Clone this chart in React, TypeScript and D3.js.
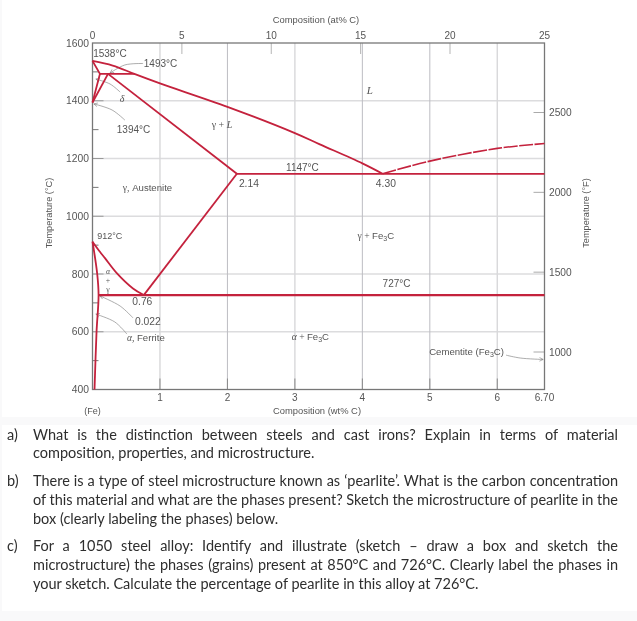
import { useLayoutEffect, useRef } from "react";
import * as d3 from "d3";

const VIEW_W = 637;
const VIEW_H = 621;
const PLOT = { top: 43, right: 544.5, bottom: 389.5, left: 92.5 };

const WT_TICKS = [1, 2, 3, 4, 5, 6];
const WT_DARK = [2, 4, 5];
const AT_TICKS = [5, 10, 15, 20];
const TEMP_MAJOR = [1400, 1200, 1000, 800, 600];
const TEMP_LABELS = [1600, 1400, 1200, 1000, 800, 600, 400];
const TEMP_MINOR = [1500, 1300, 1100, 900, 700, 500];
const F_TICKS = [2500, 2000, 1500, 1000];

type Pt = [number, number];

// phase boundaries, [wt% C, deg C]
const LIQUIDUS: Pt[] = [[0, 1538], [0.3, 1522], [0.63, 1492], [1, 1460], [2, 1379], [3, 1288], [3.37, 1249], [4, 1183], [4.3, 1147]];
const DELTA_OUTER: Pt[] = [[0, 1538], [0.11, 1493], [0, 1394]];
const PERITECTIC: Pt[] = [[0.11, 1493], [0.63, 1493]];
const GAMMA_LEFT: Pt[] = [[0, 1394], [0.23, 1493]];
const SOLIDUS: Pt[] = [[0.23, 1493], [2.14, 1147]];
const CEMENTITE_SOLVUS: Pt[] = [[2.14, 1147], [0.76, 727]];
const A3: Pt[] = [[0, 912], [0.11, 877], [0.185, 855], [0.36, 803], [0.6, 750], [0.76, 727]];
const FERRITE: Pt[] = [[0, 912], [0.07, 800], [0.09, 727], [0.06, 600], [0.03, 400]];
const EUTECTIC: Pt[] = [[2.14, 1147], [6.7, 1147]];
const EUTECTOID: Pt[] = [[0.09, 727], [6.7, 727]];
const LIQUIDUS_DASHED: Pt[] = [[4.3, 1147], [5, 1191], [6, 1235], [6.7, 1252]];

const LEADERS: Pt[][] = [
  [[0.75, 1529], [0.48, 1524], [0.26, 1496]],
  [[0.41, 1430], [0.26, 1458], [0.05, 1475]],
  [[0.48, 1333], [0.29, 1368], [0.02, 1389]],
  [[0.6, 648], [0.41, 689], [0.11, 724]],
  [[0.51, 592], [0.33, 634], [0.05, 661]],
  [[6.13, 519], [6.34, 509], [6.68, 504]],
];

const QUESTIONS = [
  { tag: "a)", lines: [
    { text: "What is the distinction between steels and cast irons? Explain in terms of material", justify: true },
    { text: "composition, properties, and microstructure.", justify: false },
  ] },
  { tag: "b)", lines: [
    { text: "There is a type of steel microstructure known as ‘pearlite’. What is the carbon concentration", justify: true },
    { text: "of this material and what are the phases present? Sketch the microstructure of pearlite in the", justify: true },
    { text: "box (clearly labeling the phases) below.", justify: false },
  ] },
  { tag: "c)", lines: [
    { text: "For a 1050 steel alloy: Identify and illustrate (sketch – draw a box and sketch the", justify: true },
    { text: "microstructure) the phases (grains) present at 850°C and 726°C. Clearly label the phases in", justify: true },
    { text: "your sketch. Calculate the percentage of pearlite in this alloy at 726°C.", justify: false },
  ] },
];
const QUESTION_BASELINES = [[439.5, 458], [486, 505, 524], [551, 570, 589]];

const x = d3.scaleLinear().domain([0, 6.7]).range([PLOT.left, PLOT.right]);
const y = d3.scaleLinear().domain([400, 1600]).range([PLOT.bottom, PLOT.top]);
// the printed at% axis is not quite even at its right end
const xAt = d3.scaleLinear().domain([0, 20, 25]).range([PLOT.left, 450, PLOT.right]);
const yF = d3.scaleLinear().domain([1000, 2500]).range([352, 112.5]);

const smooth = d3.line<Pt>().x((d) => x(d[0])).y((d) => y(d[1])).curve(d3.curveCatmullRom);
const flat = d3.line<Pt>().x((d) => x(d[0])).y((d) => y(d[1])).curve(d3.curveLinear);

const RED = "#c4213c";
const GREY = "#555555";
const SANS = "'Liberation Sans', Arial, sans-serif";
const SERIF = "'Liberation Serif', 'DejaVu Serif', serif";

function JustLine({ text, px, py, justify }: { text: string; px: number; py: number; justify: boolean }) {
  const ref = useRef<SVGTextElement>(null);
  useLayoutEffect(() => {
    if (!justify || !ref.current) return;
    const gaps = text.split(" ").length - 1;
    const w = ref.current.getComputedTextLength();
    ref.current.style.wordSpacing = `${(618 - px - w) / gaps}px`;
  }, [text, px, justify]);
  return (
    <text ref={ref} x={px} y={py} fontFamily="Lato, sans-serif" fontSize={14.5} fill="#2e2e2e">
      {text}
    </text>
  );
}

function Sub({ children }: { children: string }) {
  return (
    <>
      <tspan dy={2} fontSize={7}>{children}</tspan>
      <tspan dy={-2}>C</tspan>
    </>
  );
}

export default function App() {
  const redPaths = [DELTA_OUTER, PERITECTIC, GAMMA_LEFT, SOLIDUS, CEMENTITE_SOLVUS];
  return (
    <svg
      width={VIEW_W}
      height={VIEW_H}
      viewBox={`0 0 ${VIEW_W} ${VIEW_H}`}
      style={{ position: "absolute", left: 0, top: 0 }}
    >
      <defs>
        <marker id="open" viewBox="0 0 8 8" refX={7} refY={4} markerWidth={7} markerHeight={7} orient="auto">
          <path d="M1,1 L7,4 L1,7" fill="none" stroke="#777" strokeWidth={0.9} />
        </marker>
        <filter id="soft" x="0" y="0" width="100%" height="100%">
          <feGaussianBlur stdDeviation={0.35} />
        </filter>
      </defs>
      <g filter="url(#soft)">
        <rect width={VIEW_W} height={VIEW_H} fill="#f9f9fa" />
        <rect x={2} y={0} width={VIEW_W - 2} height={417} fill="#ffffff" />
        <rect x={2} y={425} width={VIEW_W - 2} height={186} fill="#ffffff" />

        {TEMP_MAJOR.map((t) => (
          <line key={t} x1={PLOT.left} x2={PLOT.right} y1={y(t)} y2={y(t)} stroke="#dcdcde" strokeWidth={1.4} />
        ))}
        {WT_TICKS.map((w) => (
          <g key={w}>
            <line
              x1={x(w)}
              x2={x(w)}
              y1={PLOT.top}
              y2={PLOT.bottom}
              stroke={WT_DARK.includes(w) ? "#bcbcc2" : "#d8d8da"}
              strokeWidth={WT_DARK.includes(w) ? 1 : 1.4}
            />
            <line x1={x(w)} x2={x(w)} y1={PLOT.bottom - 11} y2={PLOT.bottom} stroke="#8a8a8a" strokeWidth={1} />
            <text x={x(w)} y={401} textAnchor="middle" fontFamily={SANS} fontSize={10} fill={GREY}>{w}</text>
          </g>
        ))}

        {TEMP_LABELS.map((t) => (
          <text key={t} x={89} y={y(t) + 3.5} textAnchor="end" fontFamily={SANS} fontSize={10.3} fill={GREY}>{t}</text>
        ))}
        {TEMP_MAJOR.map((t) => (
          <line key={t} x1={PLOT.left} x2={PLOT.left + 11} y1={y(t)} y2={y(t)} stroke="#999" strokeWidth={1} />
        ))}
        {TEMP_MINOR.map((t) => (
          <line key={t} x1={PLOT.left} x2={PLOT.left + 6} y1={y(t)} y2={y(t)} stroke="#777" strokeWidth={1} />
        ))}
        {F_TICKS.map((f) => (
          <g key={f}>
            <line x1={PLOT.right - 11} x2={PLOT.right} y1={yF(f)} y2={yF(f)} stroke="#aaa" strokeWidth={1} />
            <text x={549} y={yF(f) + 3.5} fontFamily={SANS} fontSize={10.2} fill={GREY}>{f}</text>
          </g>
        ))}
        {AT_TICKS.map((a) => (
          <line key={a} x1={xAt(a)} x2={xAt(a)} y1={PLOT.top} y2={PLOT.top + 11} stroke="#b5b5b5" strokeWidth={1} />
        ))}
        {[0, ...AT_TICKS, 25].map((a) => (
          <text key={a} x={xAt(a)} y={39} textAnchor="middle" fontFamily={SANS} fontSize={10} fill={GREY}>{a}</text>
        ))}

        <rect
          x={PLOT.left}
          y={PLOT.top}
          width={PLOT.right - PLOT.left}
          height={PLOT.bottom - PLOT.top}
          fill="none"
          stroke="#777"
          strokeWidth={1.3}
        />

        {LEADERS.map((pts, i) => (
          <path key={i} d={smooth(pts) ?? undefined} fill="none" stroke="#8a8a8a" strokeWidth={0.7} markerEnd="url(#open)" />
        ))}

        {redPaths.map((pts, i) => (
          <path key={i} d={flat(pts) ?? undefined} fill="none" stroke={RED} strokeWidth={1.8} />
        ))}
        <path d={smooth(LIQUIDUS) ?? undefined} fill="none" stroke={RED} strokeWidth={1.8} />
        <path d={smooth(A3) ?? undefined} fill="none" stroke={RED} strokeWidth={1.8} />
        <path d={smooth(FERRITE) ?? undefined} fill="none" stroke={RED} strokeWidth={1.8} />
        <path d={flat(EUTECTIC) ?? undefined} fill="none" stroke={RED} strokeWidth={1.8} />
        <path d={flat(EUTECTOID) ?? undefined} fill="none" stroke={RED} strokeWidth={2.4} />
        <path d={smooth(LIQUIDUS_DASHED) ?? undefined} fill="none" stroke={RED} strokeWidth={1.6} strokeDasharray="14 1.5" />

        <g fontFamily={SANS} fontSize={10} fill={GREY}>
          <text x={x(0.01)} y={y(1550)}>1538°C</text>
          <text x={x(0.76)} y={y(1517)}>1493°C</text>
          <text x={x(0.36)} y={y(1288)}>1394°C</text>
          <text x={x(0.45)} y={y(1088)} fontSize={9.6}><tspan fontFamily={SERIF}>γ,</tspan> Austenite</text>
          <text x={x(2.17)} y={y(1102)} fontSize={10.3}>2.14</text>
          <text x={x(2.87)} y={y(1158)}>1147°C</text>
          <text x={x(4.2)} y={y(1102)} fontSize={10.3}>4.30</text>
          <text x={x(0.07)} y={y(922)} fontSize={9}>912°C</text>
          <text x={x(4.3)} y={y(755)}>727°C</text>
          <text x={x(0.59)} y={y(692)} fontSize={10.3}>0.76</text>
          <text x={x(0.63)} y={y(623)} fontSize={10.3}>0.022</text>
          <text x={x(0.51)} y={y(568)} fontSize={9.6}><tspan fontFamily={SERIF} fontStyle="italic">α,</tspan> Ferrite</text>
          <text x={x(4.99)} y={y(521)} fontSize={9.6}>Cementite (Fe<Sub>3</Sub>)</text>
          <text x={x(0)} y={414} textAnchor="middle" fontSize={9}>(Fe)</text>
          <text x={x(6.7)} y={401} textAnchor="middle">6.70</text>
          <text x={317} y={414} textAnchor="middle" fontSize={9.4}>Composition (wt% C)</text>
          <text x={316} y={23} textAnchor="middle" fontSize={9.4}>Composition (at% C)</text>
          <text transform="translate(52,213) rotate(-90)" textAnchor="middle" fontSize={9.2}>Temperature (°C)</text>
          <text transform="translate(589,213) rotate(-90)" textAnchor="middle" fontSize={9.2}>Temperature (°F)</text>
        </g>

        <g fontFamily={SERIF} fontSize={10} fill={GREY} textAnchor="middle">
          <text x={x(0.44)} y={y(1395)} fontStyle="italic">δ</text>
          <text x={x(4.11)} y={y(1425)} fontStyle="italic" fontSize={11}>L</text>
          <text x={x(1.92)} y={y(1305)}>γ + <tspan fontStyle="italic">L</tspan></text>
          <text x={x(4.2)} y={y(922)} fontSize={9.6}>γ + <tspan fontFamily={SANS}>Fe<Sub>3</Sub></tspan></text>
          <text x={x(3.23)} y={y(570)} fontSize={9.6}><tspan fontStyle="italic">α</tspan> + <tspan fontFamily={SANS}>Fe<Sub>3</Sub></tspan></text>
          <text x={x(0.23)} y={y(800)} fontSize={7.8} fontStyle="italic">α</text>
          <text x={x(0.23)} y={y(769)} fontSize={7.8}>+</text>
          <text x={x(0.23)} y={y(738)} fontSize={7.8}>γ</text>
        </g>

        {QUESTIONS.map((q, i) => (
          <g key={q.tag}>
            <text x={7} y={QUESTION_BASELINES[i][0]} fontFamily="Lato, sans-serif" fontSize={14.5} fill="#2e2e2e">{q.tag}</text>
            {q.lines.map((l, j) => (
              <JustLine key={j} text={l.text} px={33} py={QUESTION_BASELINES[i][j]} justify={l.justify} />
            ))}
          </g>
        ))}
      </g>
    </svg>
  );
}
